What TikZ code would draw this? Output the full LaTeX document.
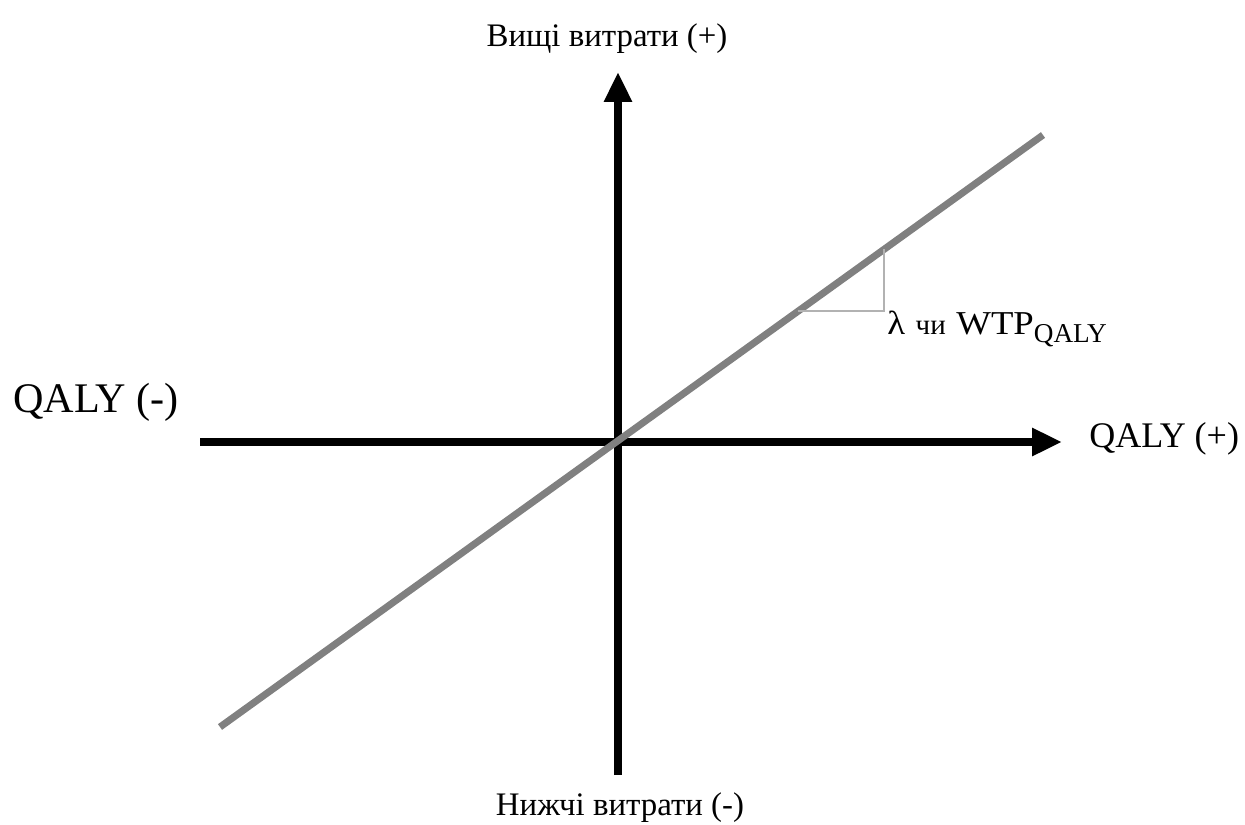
\documentclass[tikz,border=0pt]{standalone}
\usepackage{graphicx}
\usepackage{fontspec}
\setmainfont{Liberation Serif}
\usetikzlibrary{arrows.meta}

\begin{document}
\begin{tikzpicture}[x=0.02cm,y=-0.02cm,
  axis/.style={line width=4.5pt,-{Triangle[length=17pt,width=15pt]}},
  wtp/.style={line width=4pt,color=gray},
  slope/.style={line width=0.8pt,color=gray!60},
  lbl/.style={inner sep=0pt,font=\fontsize{18.7}{22}\selectfont}]
\useasboundingbox (0,0) rectangle (1245,825);
%\draw[help lines,step=50] (0,0) grid (1245,825);
\coordinate (O) at (618,442);
\coordinate (xmin) at (200,442);
\coordinate (xmax) at (1062,442);
\coordinate (ymin) at (618,775);
\coordinate (ymax) at (618,72);
\coordinate (lo) at (220,727);
\coordinate (hi) at (1043,135);
\draw[axis] (xmin) -- (xmax);
\draw[axis] (ymin) -- (ymax);
\draw[wtp] (lo) -- (hi);
% slope triangle
\coordinate (t1) at (798,311);
\coordinate (t2) at (884,311);
\coordinate (t3) at (884,249);
\draw[slope] (t1) -- (t2) -- (t3);
\node[lbl,anchor=base] (costup) at (607,46) {Вищі витрати (+)};
\node[lbl,anchor=base] (costdown) at (620,815) {Нижчі витрати (-)};
\node[lbl,anchor=base west,font=\fontsize{24}{28}\selectfont] (qminus) at (13,412) {QALY (-)};
\node[lbl,anchor=base west,font=\fontsize{20.5}{24}\selectfont] (qplus) at (1089,447) {QALY (+)};
\node[lbl,anchor=base west,font=\fontsize{19}{22}\selectfont] (lambda) at (887,334)
  {\scalebox{1.1}[1]{λ}\hspace{6pt}{\fontsize{16.5}{18}\selectfont чи}\hspace{6pt}\scalebox{1.1}[1]{WTP}\raisebox{-5pt}{\fontsize{15.5}{17}\selectfont QALY}};
\end{tikzpicture}
\end{document}
